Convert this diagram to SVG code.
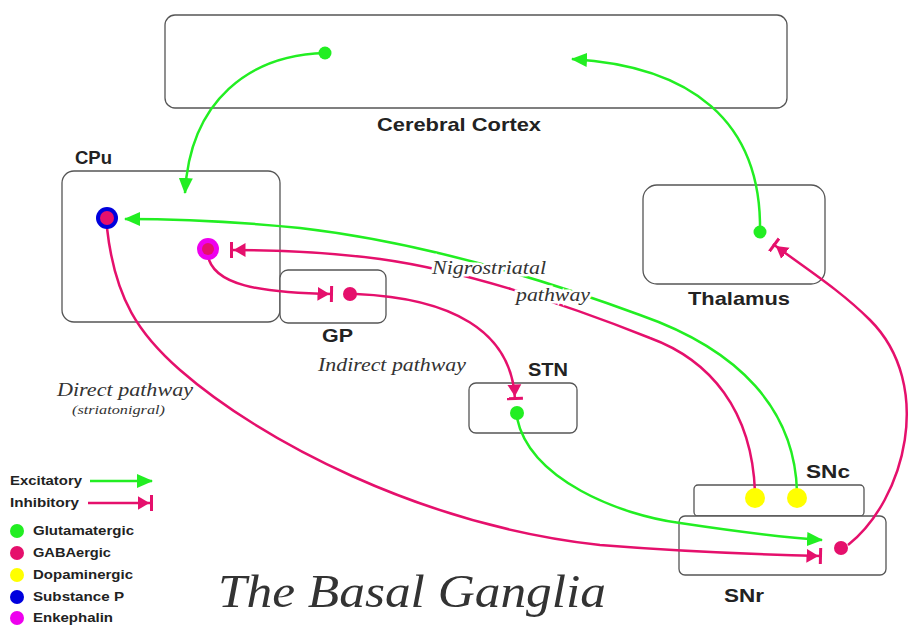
<svg xmlns="http://www.w3.org/2000/svg" width="911" height="626" viewBox="0 0 911 626">
<defs>
<style>
.box{fill:#fff;stroke:#555;stroke-width:1.3}
.lbl{font-family:"Liberation Sans",Arial,sans-serif;font-weight:bold;font-size:19px;fill:#222}
.leg{font-family:"Liberation Sans",Arial,sans-serif;font-weight:bold;font-size:12.5px;fill:#222}
.it{font-family:"Liberation Serif","Times New Roman",serif;font-style:italic;fill:#333}
.halo{stroke:#fff;stroke-width:5;paint-order:stroke}
.ex{fill:none;stroke:#22ee22;stroke-width:2.5}
.inh{fill:none;stroke:#e5106c;stroke-width:2.5}
.g{fill:#22ee22}.r{fill:#e5106c}.y{fill:#ffff00}.b{fill:#0000dd}.m{fill:#ee00ee}
</style>
<marker id="aEx" viewBox="0 0 16 14" refX="15" refY="7" markerWidth="16" markerHeight="14" markerUnits="userSpaceOnUse" orient="auto">
<path d="M0,0 L16,7 L0,14 z" fill="#22ee22"/>
</marker>
<marker id="aIn" viewBox="0 0 16 16" refX="15.5" refY="8" markerWidth="16" markerHeight="16" markerUnits="userSpaceOnUse" orient="auto">
<path d="M0,1 L12,8 L0,15 z" fill="#e5106c"/><rect x="12.5" y="0" width="3" height="16" fill="#e5106c"/>
</marker>
</defs>
<rect width="911" height="626" fill="#fff"/>

<g id="cortex"><rect class="box" x="165" y="15" width="622" height="93" rx="10"/><text class="lbl" x="377" y="131" textLength="164" lengthAdjust="spacingAndGlyphs">Cerebral Cortex</text></g>
<g id="cpu"><rect class="box" x="62" y="171" width="218" height="151" rx="12"/><text class="lbl" x="75" y="164" textLength="37" lengthAdjust="spacingAndGlyphs">CPu</text></g>
<g id="gp"><rect class="box" x="280" y="270" width="106" height="53" rx="8"/><text class="lbl" x="322" y="342" textLength="31" lengthAdjust="spacingAndGlyphs">GP</text></g>
<g id="thalamus"><rect class="box" x="643" y="185" width="182" height="99" rx="14"/><text class="lbl" x="688" y="305" textLength="102" lengthAdjust="spacingAndGlyphs">Thalamus</text></g>
<g id="stn"><rect class="box" x="469" y="383" width="108" height="50" rx="7"/><text class="lbl" x="528" y="376" textLength="40" lengthAdjust="spacingAndGlyphs">STN</text></g>
<g id="snc"><rect class="box" x="694" y="485" width="170" height="31" rx="4"/><text class="lbl" x="806" y="478" textLength="44" lengthAdjust="spacingAndGlyphs">SNc</text></g>
<g id="snr"><rect class="box" x="679" y="516" width="207" height="59" rx="6"/><text class="lbl" x="724" y="602" textLength="40" lengthAdjust="spacingAndGlyphs">SNr</text></g>

<g id="connectors">
<path class="ex" d="M325,53 C 250,55 190,100 185,193" marker-end="url(#aEx)"/>
<path class="ex" d="M760,232 C 762,120 690,66 572,59" marker-end="url(#aEx)"/>
<path class="ex" d="M797,492 C 795,410 740,350 640,315 C 540,278 420,242 300,228 C 220,220 160,219 125,219" marker-end="url(#aEx)"/>
<path class="inh" d="M755,492 C 752,410 710,360 650,338 C 560,302 460,270 380,259 C 320,251 270,250 230,250" marker-end="url(#aIn)"/>
<path class="inh" d="M208,255 C 212,285 260,293 333,294" marker-end="url(#aIn)"/>
<path class="inh" d="M356,294 C 450,298 512,330 515,400" marker-end="url(#aIn)"/>
<path class="ex" d="M517,418 C 530,480 620,515 680,523 C 740,532 790,538 822,540" marker-end="url(#aEx)"/>
<path class="inh" d="M107,228 C 115,300 140,335 180,370 C 260,440 420,525 600,545 C 700,553 780,555 822,556" marker-end="url(#aIn)"/>
<path class="inh" d="M848,545 C 905,500 935,385 870,320 C 840,290 805,268 773,244" marker-end="url(#aIn)"/>
</g>

<g id="dots">
<circle class="g" cx="325" cy="53" r="6.5"/>
<circle class="b" cx="107" cy="218" r="11"/><circle class="r" cx="107" cy="218" r="7"/>
<circle class="m" cx="208" cy="249" r="11"/><circle class="r" cx="208" cy="249" r="6"/>
<circle class="r" cx="350" cy="294" r="7"/>
<circle class="g" cx="760" cy="232" r="6.5"/>
<circle class="g" cx="517" cy="413" r="7"/>
<circle class="y" cx="755" cy="498" r="10"/>
<circle class="y" cx="797" cy="498" r="10"/>
<circle class="r" cx="841" cy="548" r="7"/>
</g>

<g id="labels">
<text class="it halo" x="432" y="274" font-size="19" textLength="114" lengthAdjust="spacingAndGlyphs">Nigrostriatal</text>
<text class="it halo" x="516" y="301" font-size="19" textLength="74" lengthAdjust="spacingAndGlyphs">pathway</text>
<text class="it" x="318" y="371" font-size="18" textLength="148" lengthAdjust="spacingAndGlyphs">Indirect pathway</text>
<text class="it" x="57" y="396" font-size="18" textLength="136" lengthAdjust="spacingAndGlyphs">Direct pathway</text>
<text class="it" x="72" y="414" font-size="12.5" textLength="93" lengthAdjust="spacingAndGlyphs">(striatonigral)</text>
<text class="it" x="218" y="607" font-size="47" fill="#111" textLength="388" lengthAdjust="spacingAndGlyphs">The Basal Ganglia</text>
</g>

<g id="legend">
<text class="leg" x="10" y="485" textLength="72" lengthAdjust="spacingAndGlyphs">Excitatory</text>
<path class="ex" d="M90,481 L152,481" marker-end="url(#aEx)"/>
<text class="leg" x="10" y="507" textLength="69" lengthAdjust="spacingAndGlyphs">Inhibitory</text>
<path class="inh" d="M88,503 L153,503" marker-end="url(#aIn)"/>
<circle class="g" cx="17" cy="531" r="7"/><text class="leg" x="33" y="535" textLength="101" lengthAdjust="spacingAndGlyphs">Glutamatergic</text>
<circle class="r" cx="17" cy="553" r="7"/><text class="leg" x="33" y="557" textLength="78" lengthAdjust="spacingAndGlyphs">GABAergic</text>
<circle class="y" cx="17" cy="575" r="7"/><text class="leg" x="33" y="579" textLength="100" lengthAdjust="spacingAndGlyphs">Dopaminergic</text>
<circle class="b" cx="17" cy="597" r="7"/><text class="leg" x="33" y="601" textLength="91" lengthAdjust="spacingAndGlyphs">Substance P</text>
<circle class="m" cx="17" cy="618" r="7"/><text class="leg" x="33" y="622" textLength="80" lengthAdjust="spacingAndGlyphs">Enkephalin</text>
</g>
</svg>
